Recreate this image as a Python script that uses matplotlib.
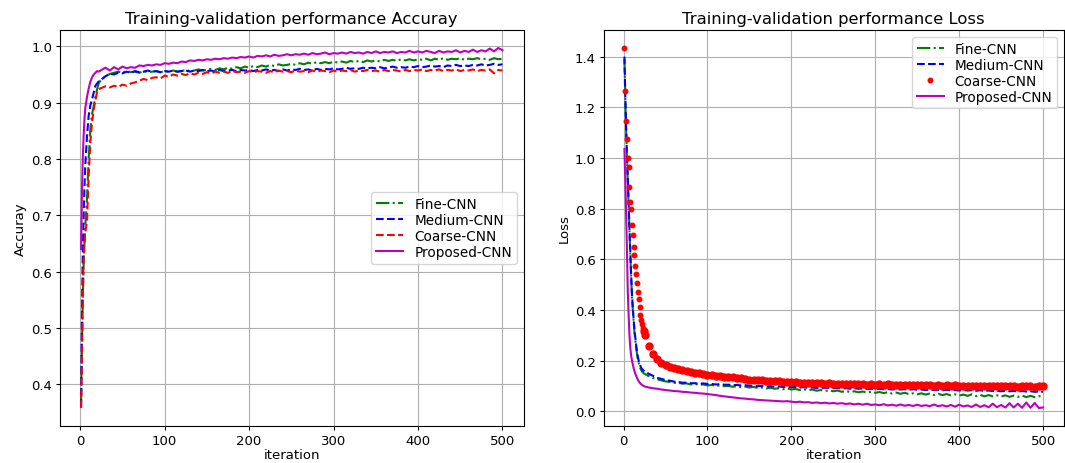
import matplotlib
matplotlib.use("Agg")
import matplotlib.pyplot as plt

# ---------------- data ----------------
series_names = ["Fine-CNN", "Medium-CNN", "Coarse-CNN", "Proposed-CNN"]

acc_iter = [1, 2, 3, 4, 5, 6, 8, 10, 12, 14, 16, 18, 20, 22] + list(range(25, 501, 5))

acc_fine = [0.37, 0.46, 0.55, 0.61, 0.65, 0.68, 0.73, 0.80, 0.853, 0.88, 0.894, 0.91, 0.924, 0.935,
    0.941, 0.947, 0.951, 0.953, 0.955, 0.953, 0.956, 0.954, 0.955, 0.953, 0.956, 0.954, 0.955, 0.956, 0.954, 0.956,
    0.955, 0.957, 0.955, 0.956, 0.958, 0.956, 0.957, 0.959, 0.957, 0.958, 0.960, 0.958, 0.961, 0.959, 0.962, 0.960,
    0.963, 0.961, 0.964, 0.962, 0.965, 0.963, 0.966, 0.964, 0.967, 0.965, 0.968, 0.966, 0.967, 0.969, 0.967, 0.970,
    0.968, 0.971, 0.969, 0.972, 0.970, 0.972, 0.970, 0.973, 0.971, 0.973, 0.971, 0.974, 0.972, 0.974, 0.972, 0.975,
    0.973, 0.975, 0.973, 0.976, 0.974, 0.976, 0.974, 0.977, 0.975, 0.977, 0.975, 0.977, 0.976, 0.978, 0.975, 0.978,
    0.976, 0.979, 0.976, 0.978, 0.977, 0.979, 0.976, 0.978, 0.977, 0.979, 0.977, 0.978, 0.976, 0.979, 0.977, 0.978]

acc_medium = [0.36, 0.52, 0.63, 0.70, 0.75, 0.79, 0.84, 0.877, 0.895, 0.906, 0.918, 0.93, 0.934, 0.938,
    0.941, 0.947, 0.951, 0.950, 0.953, 0.952, 0.955, 0.953, 0.956, 0.954, 0.955, 0.957, 0.955, 0.956, 0.954, 0.956,
    0.955, 0.957, 0.955, 0.956, 0.957, 0.955, 0.957, 0.956, 0.958, 0.956, 0.957, 0.955, 0.958, 0.956, 0.957, 0.958,
    0.956, 0.958, 0.957, 0.958, 0.956, 0.958, 0.957, 0.959, 0.957, 0.958, 0.956, 0.959, 0.957, 0.959, 0.958, 0.960,
    0.958, 0.959, 0.957, 0.960, 0.958, 0.960, 0.959, 0.961, 0.959, 0.960, 0.962, 0.960, 0.961, 0.960, 0.962, 0.961,
    0.962, 0.961, 0.963, 0.961, 0.962, 0.964, 0.962, 0.963, 0.962, 0.964, 0.963, 0.965, 0.963, 0.964, 0.966, 0.964,
    0.965, 0.963, 0.966, 0.965, 0.967, 0.965, 0.966, 0.965, 0.967, 0.966, 0.968, 0.966, 0.967, 0.969, 0.967, 0.968]

acc_coarse = [0.358, 0.45, 0.55, 0.62, 0.65, 0.67, 0.69, 0.77, 0.83, 0.865, 0.889, 0.905, 0.919, 0.924,
    0.926, 0.929, 0.927, 0.930, 0.928, 0.932, 0.930, 0.934, 0.936, 0.939, 0.942, 0.940, 0.944, 0.945, 0.943, 0.948,
    0.946, 0.950, 0.948, 0.951, 0.949, 0.952, 0.950, 0.953, 0.951, 0.954, 0.952, 0.955, 0.953, 0.955, 0.953, 0.956,
    0.954, 0.955, 0.953, 0.956, 0.954, 0.956, 0.955, 0.953, 0.956, 0.954, 0.957, 0.955, 0.956, 0.954, 0.957, 0.955,
    0.956, 0.954, 0.957, 0.955, 0.957, 0.956, 0.954, 0.957, 0.955, 0.957, 0.956, 0.958, 0.955, 0.957, 0.956, 0.958,
    0.956, 0.957, 0.955, 0.958, 0.956, 0.958, 0.957, 0.955, 0.958, 0.956, 0.958, 0.957, 0.959, 0.956, 0.958, 0.957,
    0.959, 0.956, 0.958, 0.957, 0.959, 0.956, 0.958, 0.957, 0.959, 0.956, 0.958, 0.957, 0.959, 0.952, 0.958, 0.957]

acc_proposed = [0.64, 0.74, 0.80, 0.84, 0.87, 0.89, 0.91, 0.925, 0.937, 0.945, 0.95, 0.953, 0.956, 0.955,
    0.958, 0.962, 0.957, 0.963, 0.959, 0.964, 0.961, 0.963, 0.962, 0.966, 0.965, 0.967, 0.966, 0.968, 0.967, 0.970,
    0.969, 0.971, 0.970, 0.973, 0.972, 0.975, 0.974, 0.976, 0.975, 0.977, 0.976, 0.978, 0.977, 0.979, 0.978, 0.980,
    0.979, 0.981, 0.980, 0.982, 0.980, 0.983, 0.982, 0.984, 0.982, 0.985, 0.983, 0.984, 0.986, 0.984, 0.986, 0.985,
    0.987, 0.985, 0.988, 0.986, 0.987, 0.989, 0.986, 0.988, 0.987, 0.989, 0.987, 0.990, 0.988, 0.989, 0.987, 0.990,
    0.988, 0.991, 0.988, 0.990, 0.989, 0.991, 0.988, 0.990, 0.989, 0.992, 0.989, 0.991, 0.989, 0.992, 0.990, 0.988,
    0.992, 0.989, 0.991, 0.990, 0.993, 0.989, 0.992, 0.990, 0.994, 0.990, 0.993, 0.991, 0.996, 0.991, 0.997, 0.993]

loss_iter = list(range(1, 25)) + list(range(25, 501, 5))

loss_fine = [1.39, 1.24, 1.11, 1.00, 0.91, 0.81, 0.71, 0.62, 0.53, 0.45, 0.40, 0.35, 0.31, 0.28, 0.25, 0.225,
    0.205, 0.19, 0.178, 0.169, 0.162, 0.157, 0.153, 0.150,
    0.148, 0.139, 0.131, 0.126, 0.122, 0.118, 0.116, 0.112, 0.113, 0.109, 0.110, 0.106, 0.108, 0.104, 0.106, 0.102,
    0.104, 0.100, 0.102, 0.099, 0.100, 0.097, 0.099, 0.095, 0.097, 0.094, 0.096, 0.092, 0.094, 0.090, 0.093, 0.089,
    0.091, 0.087, 0.090, 0.086, 0.088, 0.084, 0.087, 0.083, 0.086, 0.081, 0.084, 0.080, 0.083, 0.079, 0.082, 0.077,
    0.080, 0.076, 0.079, 0.075, 0.078, 0.074, 0.077, 0.073, 0.076, 0.072, 0.075, 0.070, 0.074, 0.069, 0.073, 0.068,
    0.071, 0.067, 0.071, 0.066, 0.070, 0.064, 0.069, 0.064, 0.068, 0.063, 0.067, 0.062, 0.066, 0.061, 0.067, 0.060,
    0.065, 0.059, 0.064, 0.059, 0.063, 0.058, 0.063, 0.057, 0.062, 0.057, 0.062, 0.056, 0.061, 0.056, 0.060, 0.057]

loss_medium = [1.40, 1.25, 1.12, 1.01, 0.92, 0.82, 0.72, 0.63, 0.54, 0.46, 0.41, 0.36, 0.32, 0.29, 0.26, 0.235,
    0.215, 0.20, 0.188, 0.179, 0.172, 0.167, 0.163, 0.160,
    0.158, 0.148, 0.140, 0.132, 0.128, 0.123, 0.121, 0.117, 0.116, 0.113, 0.113, 0.111, 0.111, 0.109, 0.110, 0.108,
    0.108, 0.106, 0.107, 0.105, 0.105, 0.103, 0.104, 0.102, 0.103, 0.101, 0.101, 0.099, 0.100, 0.098, 0.099, 0.097,
    0.098, 0.096, 0.097, 0.095, 0.096, 0.094, 0.095, 0.093, 0.094, 0.092, 0.093, 0.092, 0.093, 0.091, 0.092, 0.090,
    0.091, 0.089, 0.091, 0.089, 0.090, 0.088, 0.089, 0.087, 0.089, 0.087, 0.088, 0.086, 0.088, 0.086, 0.087, 0.085,
    0.087, 0.085, 0.086, 0.084, 0.086, 0.084, 0.085, 0.083, 0.085, 0.083, 0.084, 0.082, 0.084, 0.082, 0.083, 0.081,
    0.083, 0.080, 0.082, 0.080, 0.081, 0.079, 0.081, 0.079, 0.080, 0.078, 0.080, 0.078, 0.079, 0.077, 0.078, 0.077]

loss_coarse = [1.434, 1.266, 1.147, 1.075, 0.999, 0.964, 0.885, 0.828, 0.799, 0.736, 0.696, 0.650, 0.617, 0.575,
    0.541, 0.508, 0.472, 0.442, 0.410, 0.380, 0.360, 0.343, 0.328, 0.315,
    0.302, 0.258, 0.226, 0.205, 0.192, 0.182, 0.175, 0.170, 0.165, 0.162, 0.158, 0.155, 0.153, 0.150, 0.147, 0.145,
    0.143, 0.141, 0.139, 0.137, 0.135, 0.134, 0.132, 0.131, 0.127, 0.125, 0.125, 0.123, 0.122, 0.121, 0.120, 0.118,
    0.118, 0.116, 0.116, 0.114, 0.115, 0.113, 0.113, 0.112, 0.112, 0.111, 0.111, 0.109, 0.110, 0.108, 0.109, 0.108,
    0.108, 0.107, 0.108, 0.106, 0.107, 0.105, 0.106, 0.105, 0.107, 0.105, 0.106, 0.104, 0.105, 0.103, 0.105, 0.103,
    0.104, 0.102, 0.104, 0.102, 0.103, 0.101, 0.103, 0.101, 0.102, 0.100, 0.102, 0.100, 0.101, 0.099, 0.101, 0.099,
    0.101, 0.099, 0.100, 0.098, 0.100, 0.098, 0.100, 0.098, 0.100, 0.097, 0.099, 0.098, 0.100, 0.097, 0.099, 0.098]

loss_proposed = [1.035, 0.92, 0.78, 0.64, 0.47, 0.38, 0.30, 0.25, 0.22, 0.20, 0.185, 0.17, 0.158, 0.148, 0.14,
    0.132, 0.125, 0.119, 0.114, 0.110, 0.107, 0.104, 0.102, 0.100,
    0.098, 0.094, 0.091, 0.089, 0.086, 0.084, 0.082, 0.080, 0.079, 0.077, 0.076, 0.074, 0.073, 0.071, 0.070, 0.068,
    0.066, 0.064, 0.061, 0.059, 0.057, 0.055, 0.053, 0.051, 0.050, 0.048, 0.047, 0.045, 0.044, 0.043, 0.042, 0.041,
    0.040, 0.039, 0.040, 0.038, 0.036, 0.038, 0.035, 0.036, 0.033, 0.035, 0.032, 0.034, 0.031, 0.033, 0.030, 0.032,
    0.029, 0.031, 0.027, 0.030, 0.026, 0.030, 0.025, 0.027, 0.024, 0.028, 0.023, 0.026, 0.022, 0.027, 0.022, 0.025,
    0.021, 0.026, 0.021, 0.024, 0.020, 0.027, 0.020, 0.024, 0.019, 0.025, 0.018, 0.026, 0.019, 0.023, 0.017, 0.027,
    0.017, 0.024, 0.016, 0.030, 0.016, 0.025, 0.015, 0.032, 0.015, 0.030, 0.014, 0.035, 0.014, 0.033, 0.013, 0.015]

# ---------------- plot ----------------
plt.rcParams["font.family"] = ["DejaVu Sans"]
plt.rcParams["font.size"] = 9.5
plt.rcParams["xtick.major.size"] = 3
plt.rcParams["ytick.major.size"] = 3
plt.rcParams["xtick.major.pad"] = 2.5
plt.rcParams["ytick.major.pad"] = 2.5

fig = plt.figure(figsize=(10.65, 4.64), dpi=100)
ax1 = fig.add_axes([60 / 1065, 1 - 427 / 464, 463.5 / 1065, 396 / 464])
ax2 = fig.add_axes([603.5 / 1065, 1 - 427 / 464, 460.5 / 1065, 396 / 464])

ax1.plot(acc_iter, acc_fine, color="g", linestyle="-.", label=series_names[0])
ax1.plot(acc_iter, acc_medium, color="b", linestyle="--", label=series_names[1])
ax1.plot(acc_iter, acc_coarse, color="r", linestyle="--", label=series_names[2])
ax1.plot(acc_iter, acc_proposed, color="m", linestyle="-", label=series_names[3])
ax1.set_title("Training-validation performance Accuray", fontsize=11.8, pad=5)
ax1.set_xlabel("iteration", labelpad=1)
ax1.set_ylabel("Accuray", labelpad=3)
ax1.grid(True)
ax1.legend(loc="center right", fontsize=9.8, labelspacing=0.15, borderpad=0.35)

ax2.plot(loss_iter, loss_fine, color="g", linestyle="-.", label=series_names[0])
ax2.plot(loss_iter, loss_medium, color="b", linestyle="--", label=series_names[1])
ax2.plot(loss_iter[:24], loss_coarse[:24], "r.", markersize=6.5, label=series_names[2])
ax2.plot(loss_iter[23:], loss_coarse[23:], "r.", markersize=10)
ax2.plot(loss_iter, loss_proposed, color="m", linestyle="-", label=series_names[3])
ax2.set_title("Training-validation performance Loss", fontsize=11.8, pad=5)
ax2.set_xlabel("iteration", labelpad=1)
ax2.set_ylabel("Loss", labelpad=3)
ax2.grid(True)
ax2.legend(loc="upper right", fontsize=9.8, labelspacing=0.15, borderpad=0.35)

fig.savefig("out.png", dpi=100)
